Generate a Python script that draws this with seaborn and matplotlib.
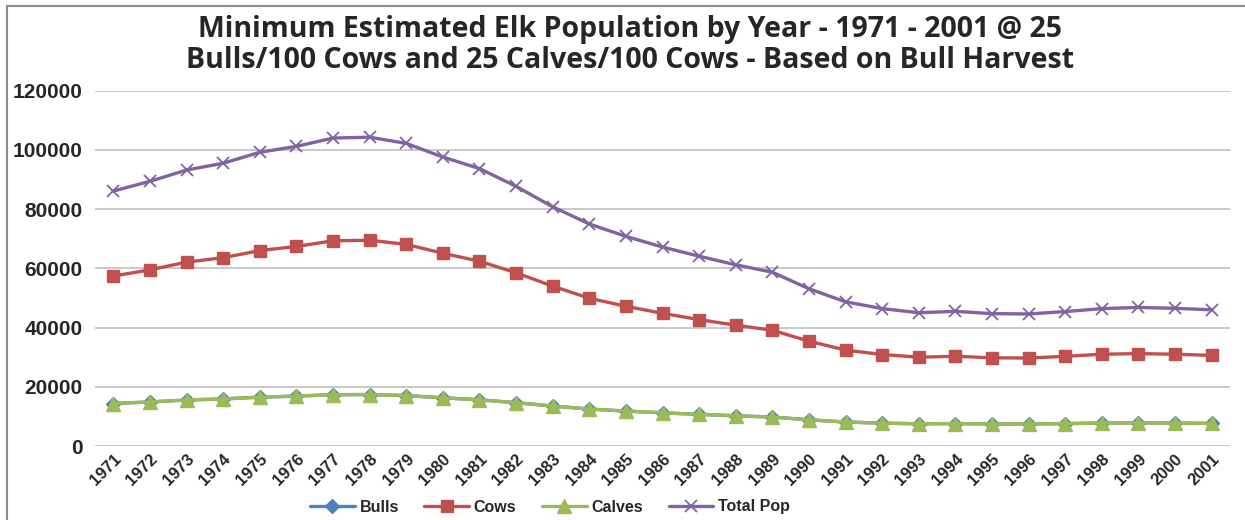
import matplotlib
matplotlib.use("Agg")
import matplotlib.pyplot as plt
from matplotlib.lines import Line2D
import seaborn as sns
import pandas as pd

years = list(range(1971, 2002))

cows = [57400, 59500, 62100, 63600, 66000, 67400, 69300, 69500, 68100, 65100,
        62400, 58500, 54000, 49900, 47200, 44800, 42700, 40800, 39100, 35400,
        32400, 30900, 30000, 30300, 29800, 29700, 30300, 31000, 31200, 31000,
        30600]

bulls = [14350, 14880, 15530, 15900, 16500, 16850, 17330, 17380, 17030, 16280,
         15600, 14630, 13500, 12480, 11800, 11200, 10680, 10200, 9780, 8850,
         8100, 7730, 7500, 7580, 7450, 7430, 7580, 7750, 7800, 7750, 7650]

calves = [14350, 14880, 15530, 15900, 16500, 16850, 17330, 17380, 17030, 16280,
          15600, 14630, 13500, 12480, 11800, 11200, 10680, 10200, 9780, 8850,
          8100, 7730, 7500, 7580, 7450, 7430, 7580, 7750, 7800, 7750, 7650]

total_pop = [86100, 89400, 93200, 95500, 99200, 101200, 104000, 104300, 102200,
             97600, 93700, 87700, 80800, 75000, 70800, 67200, 64100, 61200,
             58700, 53100, 48700, 46400, 45000, 45500, 44700, 44600, 45400,
             46400, 46800, 46500, 46000]

y_ticks = [0, 20000, 40000, 60000, 80000, 100000, 120000]

title_text = ("Minimum Estimated Elk Population by Year - 1971 - 2001 @ 25\n"
              "Bulls/100 Cows and 25 Calves/100 Cows - Based on Bull Harvest")

sns.set_theme(style="white")
plt.rcParams["font.family"] = ["Liberation Sans", "DejaVu Sans"]

W, H = 1245, 520
fig = plt.figure(figsize=(W / 100, H / 100), dpi=100)
ax = fig.add_axes([95 / W, 1 - 446 / H, (1230 - 95) / W, (446 - 90.7) / H])

series = [
    ("Bulls", bulls, "#4F81BD", "D", 7.5, 1.0),
    ("Cows", cows, "#C0504D", "s", 8.0, 1.0),
    ("Calves", calves, "#9BBB59", "^", 9.5, 1.0),
    ("Total Pop", total_pop, "#8064A2", "x", 9.0, 1.3),
]

handles = []
for i, (name, vals, color, marker, ms, mew) in enumerate(series):
    df = pd.DataFrame({"Year": years, "Value": vals})
    sns.lineplot(data=df, x="Year", y="Value", ax=ax, color=color,
                 linewidth=2.4, marker=marker, markersize=ms,
                 markeredgecolor=color, markerfacecolor=color,
                 markeredgewidth=mew, zorder=3 + i, legend=False)
    handles.append(Line2D([], [], color=color, linewidth=2.4, marker=marker,
                          markersize=ms, markeredgecolor=color,
                          markerfacecolor=color, markeredgewidth=mew,
                          label=name))

ax.set_xlim(years[0] - 0.5, years[-1] + 0.5)
ax.set_ylim(0, 120000)
ax.set_yticks(y_ticks)
ax.set_yticklabels([str(v) for v in y_ticks], fontsize=15, fontweight="bold")
ax.set_xticks(years)
ax.set_xticklabels([str(y) for y in years], rotation=45, ha="right",
                   rotation_mode="anchor", fontsize=12, fontweight="bold")
ax.tick_params(axis="y", length=0, pad=9)
ax.tick_params(axis="x", length=0, pad=4)
ax.set_xlabel("")
ax.set_ylabel("")
ax.grid(axis="y", color="#C0C0C0", linewidth=1.2)
ax.grid(axis="x", visible=False)
for side in ("left", "right", "top", "bottom"):
    ax.spines[side].set_visible(False)

fig.text(630 / W, 1 - 45 / H, title_text, ha="center", va="center",
         fontsize=20.5, fontweight="bold", linespacing=1.05,
         family=["Open Sans", "DejaVu Sans"])

fig.legend(handles=handles, loc="center", bbox_to_anchor=(550 / W, 1 - 507 / H),
           ncol=4, frameon=False, handlelength=2.8, handletextpad=0.3,
           columnspacing=1.6, prop={"size": 11.5, "weight": "bold"})

# chart frame along the top and left edges
fig.add_artist(Line2D([7 / W, 7 / W], [0, 1 - 6 / H], transform=fig.transFigure,
                      color="#8C8C8C", linewidth=1.5))
fig.add_artist(Line2D([7 / W, 1], [1 - 6 / H, 1 - 6 / H],
                      transform=fig.transFigure, color="#8C8C8C",
                      linewidth=1.5))

fig.savefig("out.png", dpi=100)
